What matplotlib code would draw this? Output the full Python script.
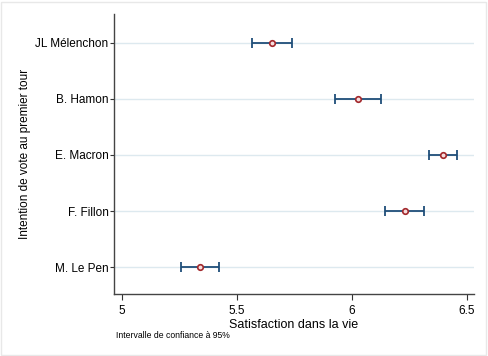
import matplotlib
matplotlib.use("Agg")
import matplotlib.pyplot as plt
from matplotlib.patches import Rectangle

candidates = ["JL Mélenchon", "B. Hamon", "E. Macron", "F. Fillon", "M. Le Pen"]
means = [5.651, 6.027, 6.397, 6.229, 5.338]
ci_low = [5.564, 5.927, 6.335, 6.145, 5.257]
ci_high = [5.738, 6.125, 6.458, 6.312, 5.420]
xticks = [5, 5.5, 6, 6.5]
xticklabels = ["5", "5.5", "6", "6.5"]

plt.rcParams['font.family'] = ['Liberation Sans', 'DejaVu Sans']

fig = plt.figure(figsize=(4.89, 3.56), dpi=100)
ax = fig.add_axes([114/489, 1 - 294/356, (474-114)/489, (294-14)/356])

ypos = list(range(1, len(candidates) + 1))
for y in ypos:
    ax.axhline(y, color="#dde9ef", lw=1.0, zorder=0)

xerr = [[m - l for m, l in zip(means, ci_low)], [h - m for m, h in zip(means, ci_high)]]
ax.errorbar(means, ypos, xerr=xerr, fmt="none", ecolor="#1f4e79", elinewidth=1.3,
            capsize=3.5, capthick=1.3, zorder=2)
ax.plot(means, ypos, "o", ms=4.0, mfc="#f6dede", mec="#a2282c", mew=1.2, zorder=3)

ax.set_xlim(4.965, 6.530)
ax.set_ylim(5.478, 0.487)
ax.set_yticks(ypos)
ax.set_yticklabels(candidates, fontsize=8.5)
ax.set_xticks(xticks)
ax.set_xticklabels(xticklabels, fontsize=8.5)
ax.tick_params(axis="x", length=4, width=0.8, color="#333333", pad=4)
ax.tick_params(axis="y", length=3, width=0.8, color="#333333", pad=1)

for s in ["top", "right"]:
    ax.spines[s].set_visible(False)
for s in ["left", "bottom"]:
    ax.spines[s].set_color("#444444")
    ax.spines[s].set_linewidth(1.0)

ax.set_xlabel("Satisfaction dans la vie", fontsize=9, labelpad=1)
ax.set_ylabel("Intention de vote au premier tour", fontsize=8.5, labelpad=3)

fig.text(116/489, 1 - 336/356, "Intervalle de confiance à 95%", fontsize=6.2, va="center", ha="left")

fig.patches.append(Rectangle((0.002, 0.002), 0.992, 0.993, transform=fig.transFigure,
                             fill=False, edgecolor="#e8e8e8", lw=1.0))

fig.savefig("out.png", dpi=100)
